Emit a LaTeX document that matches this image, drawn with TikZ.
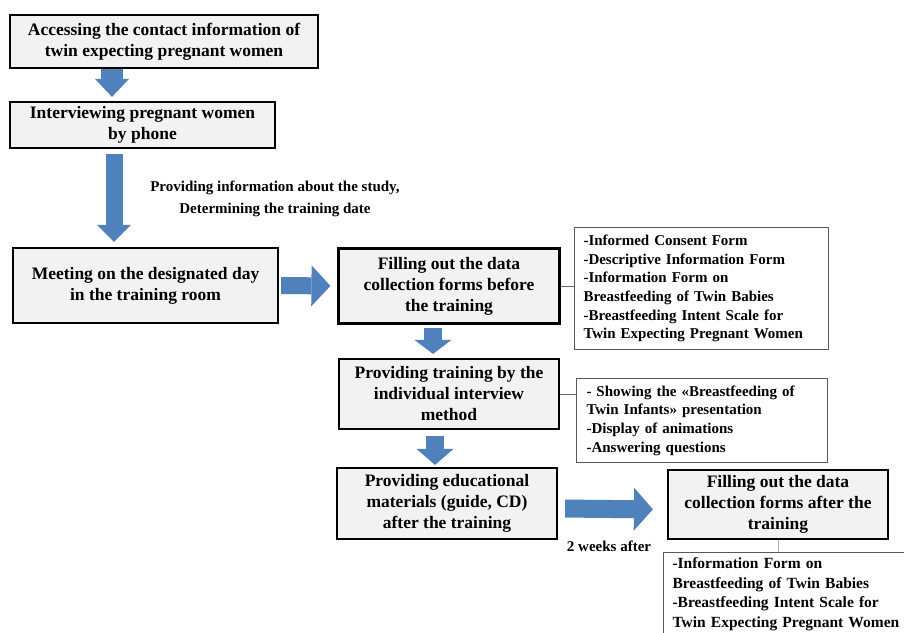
\documentclass[tikz,border=0pt]{standalone}
\usepackage{fontspec}
\setmainfont{Liberation Serif}
\usetikzlibrary{arrows.meta, positioning, calc}
\definecolor{flowblue}{HTML}{4F81BD}
\definecolor{boxgray}{HTML}{F2F2F2}
\definecolor{linkblue}{HTML}{8DB3E2}

\begin{document}
\begin{tikzpicture}[x=1pt, y=-1pt,
    stage/.style={draw=black, line width=2.2pt, fill=boxgray, align=center, inner sep=2pt, font=\fontsize{17.5}{21}\selectfont\bfseries},
    info/.style={draw=black!65, line width=1pt, fill=white, align=left, anchor=north west, inner xsep=9pt, inner ysep=5pt, font=\fontsize{15}{18.6}\selectfont\bfseries},
    flow/.style={draw=flowblue, line width=18pt, -{Triangle[length=17pt, width=38pt, line width=0pt]}},
    link/.style={draw=black!60, line width=1pt},
    cue/.style={align=center, font=\fontsize{15}{22}\selectfont\bfseries}
]
\useasboundingbox[fill=white] (0,0) rectangle (904,632);

% Left: first contact
\node[stage, minimum width=308pt, minimum height=53pt] (access) at (164,41.5) {Accessing the contact information of\\twin expecting pregnant women};
\node[stage, minimum width=265pt, minimum height=46pt] (phone) at (142.5,125) {Interviewing pregnant women\\by phone};
\node[stage, minimum width=265pt, minimum height=75pt] (meet) at (145.5,285.5) {Meeting on the designated day\\in the training room};

\draw[flow, line width=22pt, -{Triangle[length=18pt, width=34pt, line width=0pt]}, shorten >=4pt] ([xshift=-52pt]access.south) -- ([xshift=-30.5pt]phone.north);
\draw[flow, line width=17pt, -{Triangle[length=17pt, width=34pt, line width=0pt]}, shorten <=5pt, shorten >=5pt] ([xshift=-28.5pt]phone.south) -- ([xshift=-31.5pt]meet.north);
\node[cue] (study) at (275,199) {Providing information about the study,\\Determining the training date};

% Right: training day
\node[stage, minimum width=221pt, minimum height=75pt] (before) at (449,286) {Filling out the data\\collection forms before\\the training};
\node[stage, minimum width=220pt, minimum height=70pt] (train) at (449,394) {Providing training by the\\individual interview\\method};
\node[stage, minimum width=220pt, minimum height=71pt] (material) at (447,503.5) {Providing educational\\materials (guide, CD)\\after the training};
\node[stage, minimum width=220pt, minimum height=69pt] (after) at (778,504.5) {Filling out the data\\collection forms after the\\training};

\draw[flow, line width=17pt, -{Triangle[length=19pt, width=41pt, line width=0pt]}, shorten <=2pt, shorten >=7pt] (meet.east) -- (before.west);
\draw[flow, -{Triangle[length=14pt, width=37pt, line width=0pt]}, shorten <=3pt, shorten >=4pt] ([xshift=-16pt]before.south) -- ([xshift=-16pt]train.north);
\draw[flow, -{Triangle[length=16pt, width=37pt, line width=0pt]}, shorten <=6pt, shorten >=2pt] ([xshift=-14pt]train.south) -- ([xshift=-12pt]material.north);
\draw[flow, -{Triangle[length=19pt, width=43pt, line width=0pt]}, shorten <=7pt, shorten >=14pt] ([yshift=-5pt]material.east) -- ([yshift=-5pt]after.west);
\node[cue] (weeks) at (609,546) {2 weeks after};

% Forms and contents
\node[info, text width=236pt, minimum height=122pt] (formsA) at (574,227) {-Informed Consent Form\\-Descriptive Information Form\\-Information Form on\\Breastfeeding of Twin Babies\\-Breastfeeding Intent Scale for\\Twin Expecting Pregnant Women};
\node[info, text width=231pt, inner xsep=10pt, minimum height=84pt] (content) at (576,378) {- Showing the «Breastfeeding of\\Twin Infants» presentation\\-Display of animations\\-Answering questions};
\node[info, text width=262pt, font=\fontsize{15.5}{19.7}\selectfont\bfseries] (formsB) at (663,552) {-Information Form on\\Breastfeeding of Twin Babies\\-Breastfeeding Intent Scale for\\Twin Expecting Pregnant Women};

\draw[link] (before.east) -- (before.east -| formsA.west);
\draw[link] (train.east) -- (train.east -| content.west);
\draw[link, draw=linkblue] (after.south) -- (after.south |- formsB.north);

\end{tikzpicture}
\end{document}
